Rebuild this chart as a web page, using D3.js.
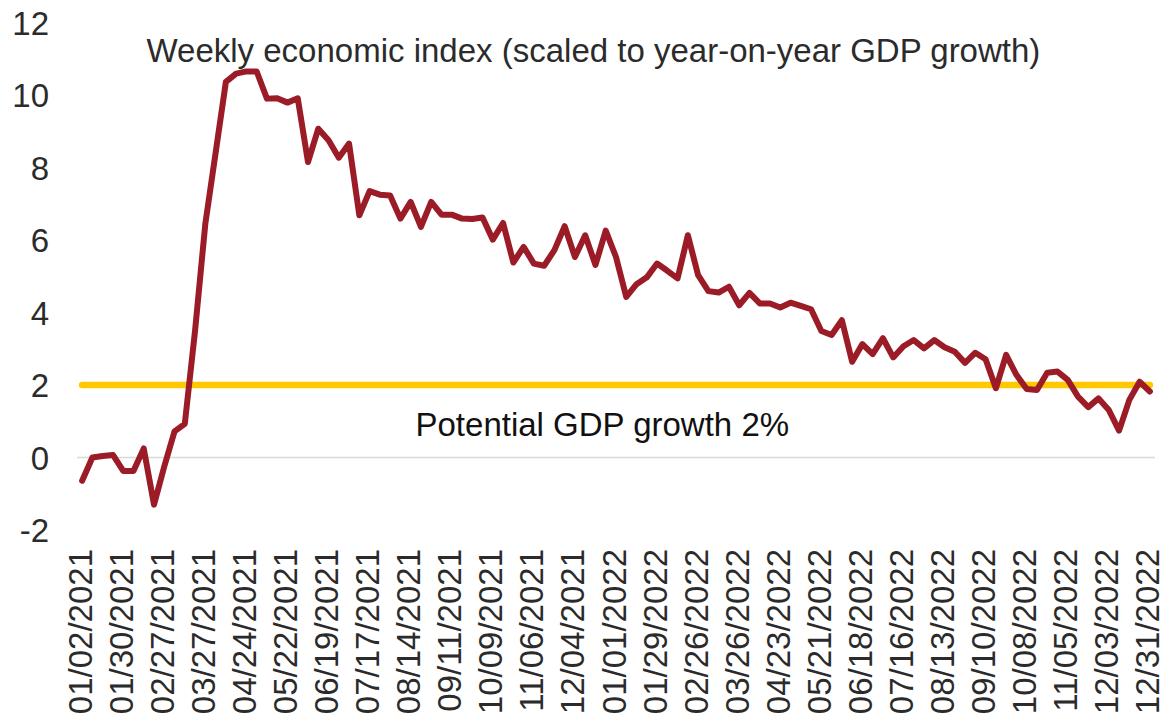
<!DOCTYPE html>
<html>
<head>
<meta charset="utf-8">
<script src="https://cdn.jsdelivr.net/npm/d3@7"></script>
<style>
  html, body { margin: 0; padding: 0; background: #ffffff; }
  svg { display: block; font-family: "Liberation Sans", Arial, sans-serif; }
</style>
</head>
<body>
<svg id="chart" width="1165" height="716"></svg>
<script>
// Weekly economic index, scaled to year-on-year GDP growth (%), Jan 2021 - Dec 2022
const weeklyIndex = [
  -0.64, 0.00, 0.04, 0.07, -0.37, -0.37, 0.25, -1.30, -0.25, 0.72,
   0.93, 3.50, 6.45, 8.40, 10.36, 10.59, 10.65, 10.65, 9.90, 9.91,
   9.79, 9.91, 8.15, 9.07, 8.75, 8.27, 8.66, 6.68, 7.35, 7.25,
   7.23, 6.59, 7.05, 6.36, 7.05, 6.70, 6.70, 6.59, 6.58, 6.62,
   6.01, 6.47, 5.38, 5.81, 5.35, 5.29, 5.72, 6.38, 5.53, 6.13,
   5.31, 6.26, 5.53, 4.43, 4.78, 4.97, 5.35, 5.15, 4.94, 6.13,
   5.03, 4.59, 4.55, 4.71, 4.20, 4.54, 4.25, 4.25, 4.14, 4.27,
   4.18, 4.09, 3.49, 3.38, 3.79, 2.64, 3.13, 2.85, 3.29, 2.76,
   3.07, 3.24, 3.01, 3.24, 3.04, 2.92, 2.61, 2.89, 2.71, 1.91,
   2.83, 2.28, 1.89, 1.86, 2.34, 2.37, 2.14, 1.68, 1.39, 1.63,
   1.31, 0.74, 1.59, 2.09, 1.82
];

// Potential GDP growth reference level (%)
const potentialGrowth = 2;

// Week-ending dates (Saturdays)
const weeks = d3.timeSaturday.range(new Date(2021, 0, 2), new Date(2022, 11, 31, 12));

// Axis labels, one every four weeks
const xTickLabels = [
  "01/02/2021", "01/30/2021", "02/27/2021", "03/27/2021", "04/24/2021",
  "05/22/2021", "06/19/2021", "07/17/2021", "08/14/2021", "09/11/2021",
  "10/09/2021", "11/06/2021", "12/04/2021", "01/01/2022", "01/29/2022",
  "02/26/2022", "03/26/2022", "04/23/2022", "05/21/2022", "06/18/2022",
  "07/16/2022", "08/13/2022", "09/10/2022", "10/08/2022", "11/05/2022",
  "12/03/2022", "12/31/2022"
];
const yTicks = [-2, 0, 2, 4, 6, 8, 10, 12];

const seriesLabel = "Weekly economic index (scaled to year-on-year GDP growth)";
const refLabel = "Potential GDP growth 2%";

const fmt = d3.timeFormat("%m/%d/%Y");
const data = weeks.map((d, i) => ({ date: d, key: fmt(d), value: weeklyIndex[i] }));

const svg = d3.select("#chart");
const textColor = "#2b2b2b";

const x = d3.scaleBand()
  .domain(data.map(d => d.key))
  .range([77, 1155])
  .paddingInner(0)
  .paddingOuter(0);
const xc = k => x(k) + x.bandwidth() / 2;

const y = d3.scaleLinear().domain([-2, 12]).range([530, 22.5]);

// zero gridline
svg.append("line")
  .attr("x1", 77).attr("x2", 1155)
  .attr("y1", y(0)).attr("y2", y(0))
  .attr("stroke", "#d9d9d9").attr("stroke-width", 1.5);

// y axis labels
const yAxis = d3.axisLeft(y).tickValues(yTicks).tickSize(0).tickPadding(0).tickFormat(d3.format("d"));
const gy = svg.append("g").attr("transform", "translate(49,0)").call(yAxis);
gy.select(".domain").remove();
gy.selectAll("text")
  .attr("x", 0)
  .attr("dy", null)
  .attr("y", 11.8)
  .attr("fill", textColor)
  .style("font-size", "33px")
  .style("font-family", "'Liberation Sans', Arial, sans-serif")
  .text(d => d < 0 ? "-" + Math.abs(d) : d);

// x axis labels, rotated
const tickKeys = new Set(xTickLabels);
const xAxis = d3.axisBottom(x).tickValues(data.map(d => d.key).filter(k => tickKeys.has(k))).tickSize(0).tickPadding(0);
const gx = svg.append("g").attr("transform", "translate(0,549)").call(xAxis);
gx.select(".domain").remove();
gx.selectAll("text")
  .attr("transform", "rotate(-90)")
  .attr("x", 0)
  .attr("y", 0)
  .attr("dy", 9.5)
  .attr("text-anchor", "end")
  .attr("fill", textColor)
  .style("font-size", "33px")
  .style("font-family", "'Liberation Sans', Arial, sans-serif");

// potential growth line
const refLine = d3.line().x(d => xc(d.key)).y(() => y(potentialGrowth));
svg.append("path")
  .datum(data)
  .attr("d", refLine)
  .attr("fill", "none")
  .attr("stroke", "#ffc800")
  .attr("stroke-width", 6.5)
  .attr("stroke-linecap", "round");

// weekly index line
const line = d3.line().x(d => xc(d.key)).y(d => y(d.value));
svg.append("path")
  .datum(data)
  .attr("d", line)
  .attr("fill", "none")
  .attr("stroke", "#9b1c27")
  .attr("stroke-width", 6)
  .attr("stroke-linejoin", "round")
  .attr("stroke-linecap", "round");

// annotations
svg.append("text")
  .attr("x", 146.5).attr("y", 61.5)
  .attr("fill", textColor)
  .style("font-size", "33px")
  .text(seriesLabel);

svg.append("text")
  .attr("x", 415.5).attr("y", 436)
  .attr("fill", "#111111")
  .style("font-size", "33px")
  .text(refLabel);
</script>
</body>
</html>
